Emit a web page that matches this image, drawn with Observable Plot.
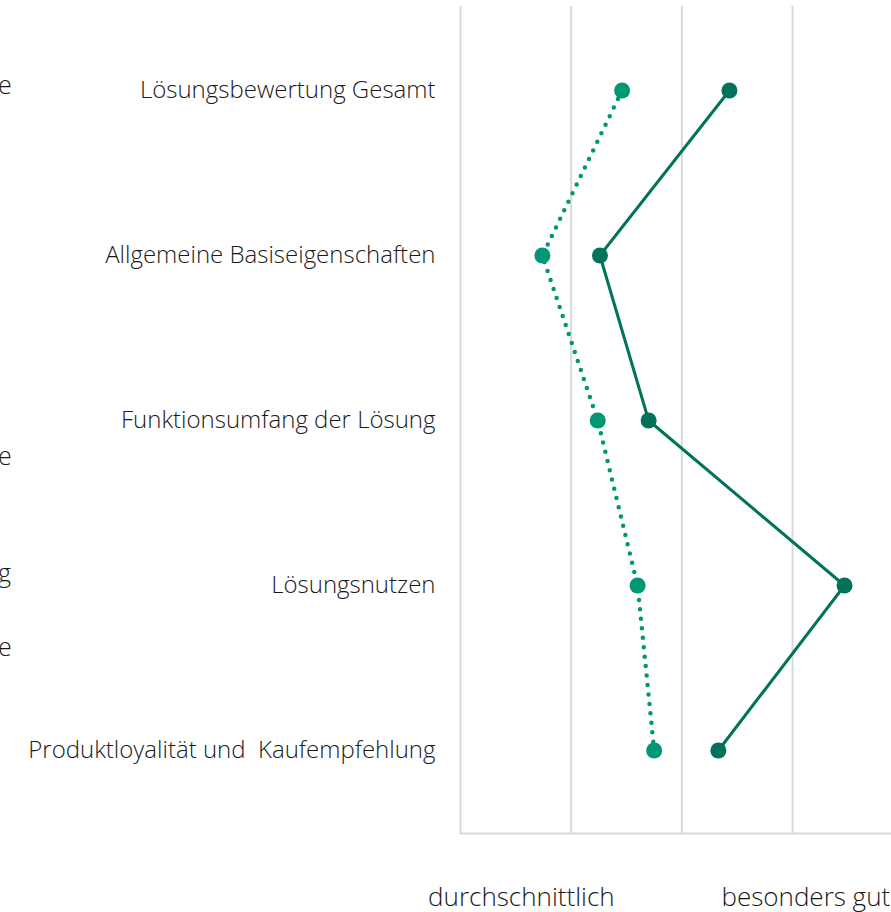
<!DOCTYPE html>
<html>
<head>
<meta charset="utf-8">
<script src="https://cdn.jsdelivr.net/npm/d3@7"></script>
<script src="https://cdn.jsdelivr.net/npm/@observablehq/plot@0.6"></script>
<style>
  html, body { margin: 0; padding: 0; background: #fff; }
  #wrap { position: relative; width: 891px; height: 912px; overflow: hidden; font-family: "Open Sans", sans-serif; font-weight: 300; color: #1a1a1a; }
  .clip { position: absolute; font-size: 25px; line-height: 1; }
</style>
</head>
<body>
<div id="wrap"></div>
<script>
const categories = [
  "Lösungsbewertung Gesamt",
  "Allgemeine Basiseigenschaften",
  "Funktionsumfang der Lösung",
  "Lösungsnutzen",
  "Produktloyalität und  Kaufempfehlung"
];
const seriesSolid = [2.43, 1.26, 1.70, 3.47, 2.33];
const seriesDotted = [1.46, 0.74, 1.24, 1.60, 1.75];
const gridTicks = [0, 1, 2, 3];
const xLabels = ["durchschnittlich", "besonders gut"];
const xLabelValues = [0.55, 3.12];
const clippedLetters = ["e", "e", "g", "e"];

const solidData = categories.map((c, i) => ({cat: c, v: seriesSolid[i]}));
const dottedData = categories.map((c, i) => ({cat: c, v: seriesDotted[i]}));
const bottomLabels = xLabels.map((t, i) => ({t, x: xLabelValues[i]}));

const cSolid = "#00735A";
const cDotted = "#009775";

const chart = Plot.plot({
  width: 891,
  height: 912,
  marginLeft: 460,
  marginRight: 0,
  marginTop: 6,
  marginBottom: 79,
  style: {fontFamily: "Open Sans, sans-serif", fontWeight: 300, fontSize: "24px", color: "#1a1a1a", background: "#fff"},
  x: {domain: [0, 431 / 110.67], axis: null},
  y: {type: "point", domain: categories, padding: 0.5, label: null},
  marks: [
    Plot.ruleX(gridTicks, {stroke: "#d9d9d9", strokeWidth: 2}),
    Plot.frame({anchor: "bottom", stroke: "#d9d9d9", strokeWidth: 2}),
    Plot.axisY({tickSize: 0, tickPadding: 25, fontSize: 24, label: null, fill: "#1a1a1a"}),
    Plot.line(dottedData, {x: "v", y: "cat", stroke: cDotted, strokeWidth: 4.5, strokeDasharray: "0 9.5", strokeLinecap: "round"}),
    Plot.line(solidData, {x: "v", y: "cat", stroke: cSolid, strokeWidth: 3}),
    Plot.dot(dottedData, {x: "v", y: "cat", r: 8, fill: cDotted}),
    Plot.dot(solidData, {x: "v", y: "cat", r: 8, fill: cSolid}),
    Plot.text(bottomLabels, {x: "x", text: "t", frameAnchor: "bottom", dy: 72, fontSize: 26, fill: "#1a1a1a"})
  ]
});
const wrap = document.getElementById("wrap");
wrap.appendChild(chart);

const tops = [72, 443, 560, 634];
clippedLetters.forEach((l, i) => {
  const s = document.createElement("div");
  s.className = "clip";
  s.textContent = l;
  s.style.left = "-2px";
  s.style.top = tops[i] + "px";
  wrap.appendChild(s);
});
</script>
</body>
</html>
